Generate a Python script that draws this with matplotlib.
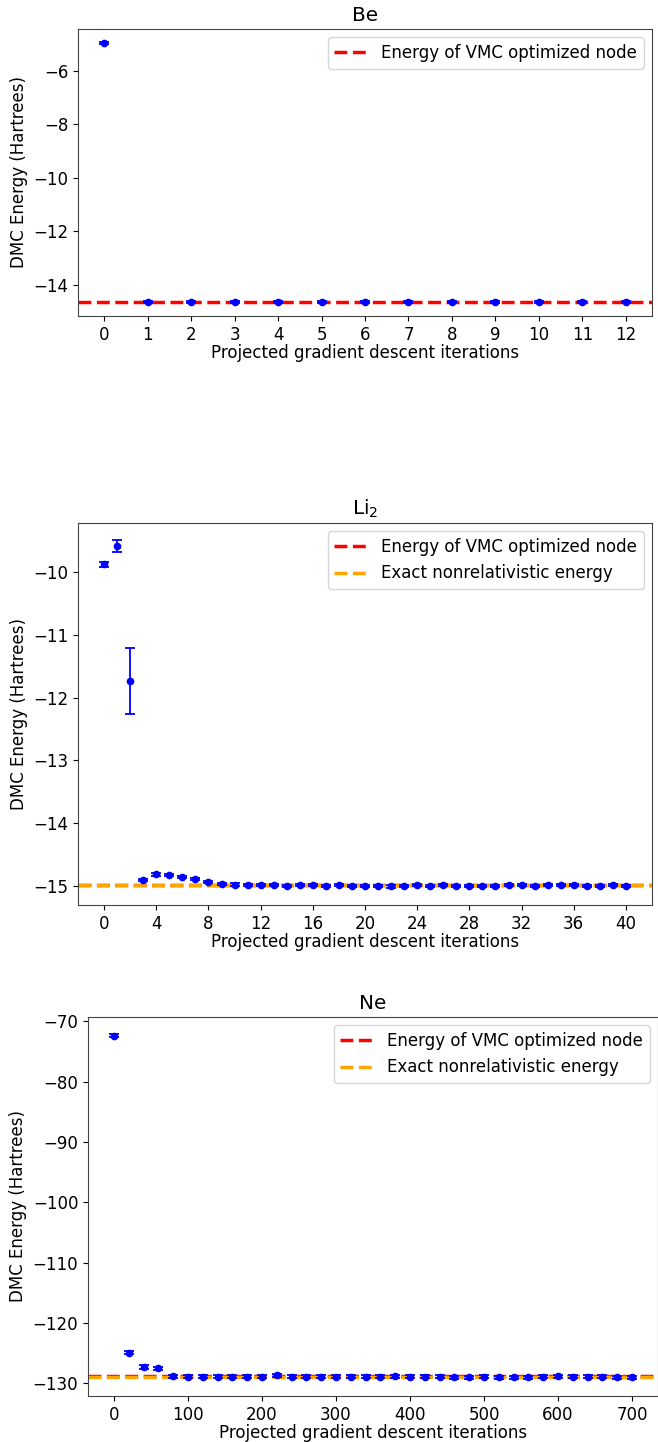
#!/usr/bin/env python3
"""DMC energy vs projected gradient descent iterations for Be, Li2, Ne."""

import matplotlib

matplotlib.use("Agg")
import matplotlib.pyplot as plt

# Be
be_iter = list(range(13))
be_energy = [-4.95] + [-14.66] * 12
be_err = [0.04] + [0.03] * 12
be_vmc = -14.66

# Li2
li2_iter = list(range(41))
li2_energy = [
    -9.87, -9.58, -11.73, -14.91, -14.82, -14.83, -14.86, -14.89, -14.94, -14.97,
    -14.98, -14.99, -14.99, -14.99, -15.00, -14.99, -14.99, -15.00, -14.99, -15.00,
    -15.00, -15.00, -15.01, -15.00, -14.99, -15.00, -14.99, -15.00, -15.00, -15.00,
    -15.00, -14.99, -14.99, -15.00, -14.99, -14.99, -14.99, -15.00, -15.00, -14.99,
    -15.00,
]
li2_err = [0.04, 0.09, 0.53] + [0.02] * 38
li2_vmc = -14.98
li2_exact = -14.9954

# Ne
ne_iter = list(range(0, 701, 20))
ne_energy = [
    -72.4, -124.9, -127.3, -127.5, -128.8, -128.9, -128.9, -128.9, -128.9, -128.9,
    -128.9, -128.7, -128.9, -128.9, -128.9, -128.9, -128.9, -128.9, -128.9, -128.8,
    -128.9, -128.9, -128.9, -129.0, -129.0, -128.9, -129.0, -129.0, -129.0, -128.9,
    -128.8, -128.9, -128.9, -128.9, -129.0, -129.0,
]
ne_err = [0.25] * 36
ne_vmc = -128.85
ne_exact = -128.938

plt.rcParams["font.family"] = "DejaVu Sans"
plt.rcParams["font.size"] = 12

W, H = 658, 1442
fig = plt.figure(figsize=(W / 100, H / 100), dpi=100)


def px_axes(left, top, right, bottom):
    return fig.add_axes([left / W, 1 - bottom / H, (right - left) / W, (bottom - top) / H])


def panel(ax, title, xs, ys, errs, vmc, exact, xticks):
    ax.axhline(vmc, color="red", linestyle="--", linewidth=2.5, label="Energy of VMC optimized node")
    if exact is not None:
        ax.axhline(exact, color="orange", linestyle="--", linewidth=2.5, label="Exact nonrelativistic energy")
    ax.errorbar(xs, ys, yerr=errs, fmt="o", color="blue", markersize=4.5,
                capsize=3.5, capthick=1.3, elinewidth=1.3)
    ax.set_title(title)
    ax.set_xlabel("Projected gradient descent iterations", labelpad=0)
    ax.set_ylabel("DMC Energy (Hartrees)")
    ax.set_xticks(xticks)
    for side in ("left", "right", "top", "bottom"):
        ax.spines[side].set_color("#444444")
    ax.legend(loc="upper right", fontsize=12)


ax = px_axes(78, 29, 652, 316)
panel(ax, "Be", be_iter, be_energy, be_err, be_vmc, None, list(range(13)))

ax = px_axes(78, 523, 652, 905)
panel(ax, "Li$_2$", li2_iter, li2_energy, li2_err, li2_vmc, li2_exact, list(range(0, 41, 4)))

ax = px_axes(88, 1017, 658, 1396)
panel(ax, "Ne", ne_iter, ne_energy, ne_err, ne_vmc, ne_exact, list(range(0, 701, 100)))

fig.savefig("out.png", dpi=100)
plt.close(fig)
